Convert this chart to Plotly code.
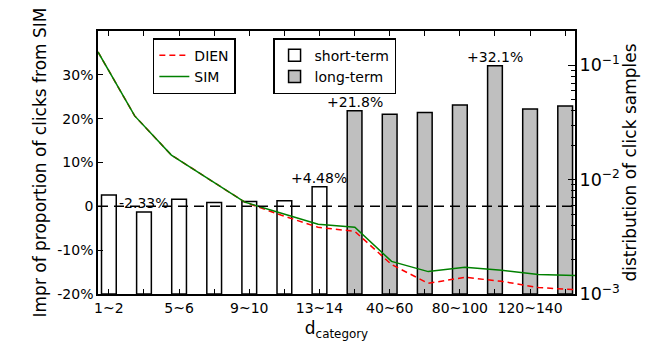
import plotly.graph_objects as go

# ---- data ----
bar_index = list(range(14))
tick_labels = ["1~2", "", "5~6", "", "9~10", "", "13~14", "",
               "40~60", "", "80~100", "", "120~140", ""]
short_idx = [0, 1, 2, 3, 4, 5, 6]
short_vals = [2.6, -1.3, 1.6, 0.9, 1.1, 1.3, 4.48]
long_idx = [7, 8, 9, 10, 11, 12, 13]
long_vals = [21.8, 21.0, 21.4, 23.1, 32.1, 22.2, 22.9]

line_index = list(range(14))
sim_dist = [0.131, 0.0361, 0.0164, 0.0103, 0.00636, 0.00508, 0.00407,
            0.00383, 0.00193, 0.00157, 0.00171, 0.00161, 0.00148, 0.00145]
dien_dist = [0.131, 0.0361, 0.0164, 0.0103, 0.00636, 0.00488, 0.00383,
             0.00353, 0.00181, 0.00124, 0.00140, 0.00129, 0.00114, 0.00109]

ann_idx = [1, 6, 7, 11]
ann_text = ["-2.33%", "+4.48%", "+21.8%", "+32.1%"]

left_ticks = [-20, -10, 0, 10, 20, 30]
left_labels = ["-20%", "-10%", "0", "10%", "20%", "30%"]

BASE = -20
FONT = "DejaVu Sans"

fig = go.Figure()

fig.add_trace(go.Bar(
    x=short_idx, y=[v - BASE for v in short_vals], base=BASE,
    width=0.42, name="short-term",
    marker=dict(color="white", line=dict(color="black", width=1.5)),
    legend="legend2", xaxis="x", yaxis="y"))
fig.add_trace(go.Bar(
    x=long_idx, y=[v - BASE for v in long_vals], base=BASE,
    width=0.42, name="long-term",
    marker=dict(color="#bfbfbf", line=dict(color="black", width=1.5)),
    legend="legend2", xaxis="x", yaxis="y"))

fig.add_trace(go.Scatter(
    x=line_index, y=dien_dist, mode="lines", name="DIEN",
    line=dict(color="#ff0000", width=1.5, dash="6px,4px"),
    legend="legend", xaxis="x2", yaxis="y2"))
fig.add_trace(go.Scatter(
    x=line_index, y=sim_dist, mode="lines", name="SIM",
    line=dict(color="#008000", width=1.5),
    legend="legend", xaxis="x2", yaxis="y2"))

# zero reference line
fig.add_shape(type="line", xref="paper", yref="y", x0=0, x1=1, y0=0, y1=0,
              line=dict(color="black", width=1.5, dash="10px,6px"),
              layer="above")

all_vals = dict(zip(short_idx + long_idx, short_vals + long_vals))
for i, t in zip(ann_idx, ann_text):
    fig.add_annotation(x=i, y=all_vals[i], xref="x", yref="y", text=t,
                       showarrow=False, yanchor="middle", yshift=9,
                       font=dict(size=14, color="black", family=FONT))

# the page body adds an 8px margin, so the figure is drawn 8px smaller/shifted
fig.update_layout(
    width=654, height=356,
    margin=dict(l=90, r=87, t=23, b=70),
    paper_bgcolor="white", plot_bgcolor="white",
    font=dict(family=FONT, size=14, color="black"),
    barmode="overlay",
    xaxis=dict(range=[-0.31, 13.28], tickvals=bar_index, ticktext=tick_labels,
               ticks="inside", ticklen=5, tickcolor="black", tickwidth=1,
               showline=True, linecolor="black", linewidth=1.5, mirror="ticks",
               showgrid=False, zeroline=False, automargin=False,
               title=dict(text="d<sub>category</sub>", standoff=8),
               tickfont=dict(size=14)),
    xaxis2=dict(range=[0, 13], overlaying="x", visible=False, anchor="y",
                automargin=False),
    yaxis=dict(range=[-20, 40], tickvals=left_ticks, ticktext=left_labels,
               ticks="inside", ticklen=5, tickcolor="black",
               showline=True, linecolor="black", linewidth=1.5,
               showgrid=False, zeroline=False, automargin=False,
               title=dict(text="Impr of proportion of clicks from SIM", standoff=6)),
    yaxis2=dict(type="log", range=[-3, -0.7], overlaying="y", side="right",
                anchor="x", dtick=1, exponentformat="power", showexponent="all",
                ticks="inside", ticklen=7, tickcolor="black",
                minor=dict(ticks="inside", ticklen=4, tickcolor="black", dtick="D1"),
                showline=True, linecolor="black", linewidth=1.5,
                showgrid=False, zeroline=False, automargin=False,
                title=dict(text="distribution of click samples", standoff=4)),
    legend=dict(x=0.115, y=0.973, xanchor="left", yanchor="top",
                bordercolor="black", borderwidth=1.5, bgcolor="white",
                font=dict(size=14)),
    legend2=dict(x=0.367, y=0.973, xanchor="left", yanchor="top",
                 bordercolor="black", borderwidth=1.5, bgcolor="white",
                 font=dict(size=14)),
)

fig.write_html("out.html")
